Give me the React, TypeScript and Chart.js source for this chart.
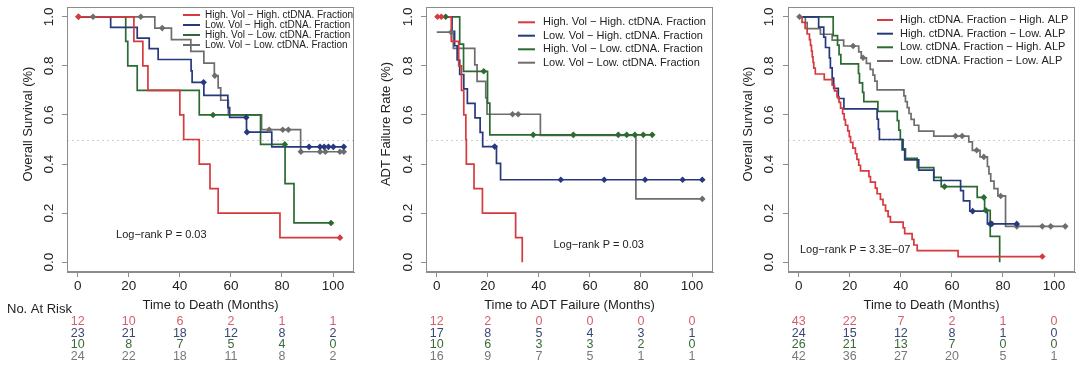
import React, { useEffect, useRef } from 'react';
import { Chart, registerables } from 'chart.js';

Chart.register(...registerables);

const FONT = "'Liberation Sans', Arial, Helvetica, sans-serif";

// ---------- shared axis ticks ----------
const xTickValues = [0, 20, 40, 60, 80, 100];
const yTickValues = [0, 0.2, 0.4, 0.6, 0.8, 1.0];

// ---------- Panel 1: Overall survival by volume x ctDNA ----------
const p1Labels = [
  'High. Vol − High. ctDNA. Fraction',
  'Low. Vol − High. ctDNA. Fraction',
  'High. Vol − Low. ctDNA. Fraction',
  'Low. Vol − Low. ctDNA. Fraction',
];
const p1RedTimes = [0, 22, 25.5, 27.5, 40, 41.5, 47.6, 51.8, 55, 79.2];
const p1RedSurv = [1, 0.9, 0.8, 0.7, 0.6, 0.5, 0.4, 0.3, 0.2, 0.1];
const p1RedCensor = [0.3, 102.7];
const p1BlueTimes = [0, 12.9, 23.3, 28, 31.5, 44.4, 44.8, 49.4, 58.8, 59.5, 66.1, 76];
const p1BlueSurv = [1, 0.957, 0.913, 0.87, 0.826, 0.78, 0.733, 0.68, 0.63, 0.59, 0.53, 0.47];
const p1BlueCensor = [49.3, 66.0, 66.3, 90.6, 94.9, 96.5, 98.2, 100.1, 104.2];
const p1GreenTimes = [0, 18.8, 19.6, 23.3, 47.6, 71.6, 81.2, 84.7];
const p1GreenSurv = [1, 0.9, 0.8, 0.7, 0.6, 0.48, 0.32, 0.16];
const p1GreenCensor = [53, 81.1, 99.2];
const p1GrayTimes = [0, 30.2, 36.7, 44.3, 49.4, 53.5, 55, 56, 59, 72, 87.3];
const p1GraySurv = [1, 0.954, 0.907, 0.859, 0.811, 0.76, 0.71, 0.66, 0.6, 0.54, 0.45];
const p1GrayCensor = [0.3, 6, 24.7, 33.1, 53.7, 75, 80.3, 82.5, 87.4, 94.9, 97, 102.7, 104.2];
const p1RiskRed = [12, 10, 6, 2, 1, 1];
const p1RiskBlue = [23, 21, 18, 12, 8, 2];
const p1RiskGreen = [10, 8, 7, 5, 4, 0];
const p1RiskGray = [24, 22, 18, 11, 8, 2];

// ---------- Panel 2: ADT failure ----------
const p2RedTimes = [0, 5.7, 8.6, 9.7, 10.6, 11.4, 11.6, 14.6, 17.9, 30.9, 33.5];
const p2RedSurv = [1, 0.9, 0.8, 0.7, 0.6, 0.5, 0.4, 0.3, 0.2, 0.1, 0];
const p2RedCensor = [0.3, 1.8];
const p2BlueTimes = [0, 6, 7, 8, 9, 10.6, 12, 15, 17, 18, 23.4, 25];
const p2BlueSurv = [1, 0.941, 0.882, 0.824, 0.765, 0.706, 0.647, 0.588, 0.529, 0.471, 0.403, 0.336];
const p2BlueCensor = [22.7, 48.6, 65.6, 81.6, 96.3, 104];
const p2GreenTimes = [0, 9, 10.5, 19.9, 20.8];
const p2GreenSurv = [1, 0.889, 0.778, 0.648, 0.519];
const p2GreenCensor = [3.5, 18.4, 37.8, 53.5, 71.1, 74.4, 77.6, 80.9, 84.4];
const p2GrayTimes = [0, 6.5, 14.9, 15.8, 19.2, 19.7, 40.6, 78];
const p2GraySurv = [0.9375, 0.871, 0.804, 0.737, 0.67, 0.603, 0.517, 0.258];
const p2GrayCensor = [5.7, 29.7, 31.9, 104];
const p2RiskRed = [12, 2, 0, 0, 0, 0];
const p2RiskBlue = [17, 8, 5, 4, 3, 1];
const p2RiskGreen = [10, 6, 3, 3, 2, 0];
const p2RiskGray = [16, 9, 7, 5, 1, 1];

// ---------- Panel 3: Overall survival by ctDNA x ALP ----------
const p3Labels = [
  'High. ctDNA. Fraction − High. ALP',
  'High. ctDNA. Fraction − Low. ALP',
  'Low. ctDNA. Fraction − High. ALP',
  'Low. ctDNA. Fraction − Low. ALP',
];
const p3RedTimes = [0, 1.3, 2.5, 3.3, 4.2, 4.6, 5.0, 5.3, 5.6, 5.9, 6.5, 10, 13.1, 14, 15, 15.8, 16.4, 17.2, 17.8, 18.3, 19.2, 19.8, 20.3, 21.2, 22.2, 22.8, 23.5, 24.2, 27.5, 28.1, 30, 30.7, 32, 33, 34, 35, 35.9, 40.9, 41.5, 44.4, 45.1, 46.4, 62.4];
const p3RedSurv = [1, 0.977, 0.953, 0.93, 0.907, 0.884, 0.86, 0.837, 0.814, 0.791, 0.767, 0.744, 0.721, 0.698, 0.674, 0.651, 0.628, 0.605, 0.581, 0.558, 0.535, 0.512, 0.488, 0.465, 0.442, 0.419, 0.395, 0.372, 0.349, 0.326, 0.302, 0.279, 0.256, 0.233, 0.209, 0.186, 0.163, 0.14, 0.116, 0.093, 0.07, 0.047, 0.023];
const p3RedCensor = [95.4];
const p3BlueTimes = [0, 7.8, 9.8, 10.5, 12, 12.4, 13.1, 13.7, 15.5, 17.7, 30.7, 31.2, 31.6, 40.5, 41.5, 47, 52.9, 63.4, 64.5, 67, 73.9];
const p3BlueSurv = [1, 0.958, 0.917, 0.875, 0.833, 0.792, 0.75, 0.708, 0.667, 0.625, 0.583, 0.542, 0.5, 0.458, 0.417, 0.375, 0.333, 0.292, 0.25, 0.208, 0.156];
const p3BlueCensor = [68.1, 75, 75.6, 85.4];
const p3GreenTimes = [0, 13.5, 15.2, 15.8, 16.5, 23.4, 23.8, 25, 25.5, 31, 38.6, 39.2, 39.8, 40.9, 41.8, 46.4, 52.9, 55.8, 69.9, 72.8, 75, 78.7];
const p3GreenSurv = [1, 0.923, 0.885, 0.846, 0.808, 0.769, 0.731, 0.692, 0.654, 0.615, 0.577, 0.538, 0.5, 0.462, 0.423, 0.385, 0.346, 0.308, 0.264, 0.211, 0.105, 0];
const p3GreenCensor = [57.1, 72.5, 73.3];
const p3GrayTimes = [0, 2.6, 3.3, 8.5, 13.1, 17.6, 23.5, 24.5, 26.5, 28, 29.1, 29.8, 30.7, 41.2, 41.8, 42.5, 43.2, 44, 45.2, 47, 52.9, 66.6, 68, 71, 73.9, 74.5, 75.2, 76.5, 78, 81];
const p3GraySurv = [1, 0.976, 0.952, 0.929, 0.905, 0.881, 0.857, 0.833, 0.81, 0.786, 0.762, 0.738, 0.702, 0.678, 0.654, 0.63, 0.606, 0.582, 0.558, 0.534, 0.514, 0.49, 0.456, 0.429, 0.39, 0.36, 0.33, 0.3, 0.27, 0.146];
const p3GrayCensor = [0.3, 21.3, 25.2, 61.4, 64, 69.7, 72.5, 79.1, 85.4, 95.4, 98.7, 104.4];
const p3RiskRed = [43, 22, 7, 2, 1, 0];
const p3RiskBlue = [24, 15, 12, 8, 1, 0];
const p3RiskGreen = [26, 21, 13, 7, 0, 0];
const p3RiskGray = [42, 36, 27, 20, 5, 1];

// ---------- styles ----------
const LINE = { red: '#d6393e', blue: '#26387e', green: '#2b6a31', gray: '#6d6d6d' };
const RISK = { red: '#d4606c', blue: '#3a4678', green: '#3a6a3a', gray: '#787878' };
const FRAME = '#8c8c8c';
const TEXT = '#222222';

type Group = {
  label: string; color: string; riskColor: string;
  times: number[]; surv: number[]; end: number; censor: number[]; risk: number[];
};

function lastEnd(times: number[], censor: number[]) {
  return Math.max(times[times.length - 1], censor.length ? censor[censor.length - 1] : 0);
}

function mk(label: string, key: 'red' | 'blue' | 'green' | 'gray', times: number[], surv: number[], censor: number[], risk: number[]): Group {
  return { label, color: LINE[key], riskColor: RISK[key], times, surv, end: lastEnd(times, censor), censor, risk };
}

type Panel = {
  groups: Group[];
  yTitle: string; xTitle: string; logrank: string; logX: number; logY: number;
  riskLabel: boolean;
  areaLeft: number; rightPad: number; yTickPad: number; yTitleX: number;
  legend: { size: number; x0: number; x1: number; tx: number; ys: number[] };
};

const panels: Panel[] = [
  {
    groups: [
      mk(p1Labels[0], 'red', p1RedTimes, p1RedSurv, p1RedCensor, p1RiskRed),
      mk(p1Labels[1], 'blue', p1BlueTimes, p1BlueSurv, p1BlueCensor, p1RiskBlue),
      mk(p1Labels[2], 'green', p1GreenTimes, p1GreenSurv, p1GreenCensor, p1RiskGreen),
      mk(p1Labels[3], 'gray', p1GrayTimes, p1GraySurv, p1GrayCensor, p1RiskGray),
    ],
    yTitle: 'Overall Survival (%)', xTitle: 'Time to Death (Months)',
    logrank: 'Log−rank P = 0.03', logX: 15, logY: 0.11, riskLabel: true,
    areaLeft: 67, rightPad: 6, yTickPad: 3.3, yTitleX: 28,
    legend: { size: 10, x0: 183, x1: 200, tx: 205, ys: [15, 25, 35, 45] },
  },
  {
    groups: [
      mk(p1Labels[0], 'red', p2RedTimes, p2RedSurv, p2RedCensor, p2RiskRed),
      mk(p1Labels[1], 'blue', p2BlueTimes, p2BlueSurv, p2BlueCensor, p2RiskBlue),
      mk(p1Labels[2], 'green', p2GreenTimes, p2GreenSurv, p2GreenCensor, p2RiskGreen),
      mk(p1Labels[3], 'gray', p2GrayTimes, p2GraySurv, p2GrayCensor, p2RiskGray),
    ],
    yTitle: 'ADT Failure Rate (%)', xTitle: 'Time to ADT Failure (Months)',
    logrank: 'Log−rank P = 0.03', logX: 45.7, logY: 0.07, riskLabel: false,
    areaLeft: 66, rightPad: 7, yTickPad: 3.3, yTitleX: 26.7,
    legend: { size: 11, x0: 158, x1: 175, tx: 183, ys: [22.3, 35.7, 49.3, 62.7] },
  },
  {
    groups: [
      mk(p3Labels[0], 'red', p3RedTimes, p3RedSurv, p3RedCensor, p3RiskRed),
      mk(p3Labels[1], 'blue', p3BlueTimes, p3BlueSurv, p3BlueCensor, p3RiskBlue),
      mk(p3Labels[2], 'green', p3GreenTimes, p3GreenSurv, p3GreenCensor, p3RiskGreen),
      mk(p3Labels[3], 'gray', p3GrayTimes, p3GraySurv, p3GrayCensor, p3RiskGray),
    ],
    yTitle: 'Overall Survival (%)', xTitle: 'Time to Death (Months)',
    logrank: 'Log−rank P = 3.3E−07', logX: 0.5, logY: 0.049, riskLabel: false,
    areaLeft: 68, rightPad: 5, yTickPad: 4.3, yTitleX: 28,
    legend: { size: 11, x0: 157, x1: 173, tx: 180, ys: [20, 33.7, 47.3, 61] },
  },
];

function survAt(times: number[], surv: number[], t: number) {
  let s = surv[0];
  for (let i = 0; i < times.length; i++) if (times[i] <= t) s = surv[i];
  return s;
}

function buildDatasets(p: Panel) {
  const censorSets = p.groups.map((g) => ({
    label: g.label + ' censored',
    data: g.censor.map((t) => ({ x: t, y: survAt(g.times, g.surv, t) })),
    showLine: false,
    pointStyle: 'rectRot' as const,
    pointRadius: 3.3,
    pointBackgroundColor: g.color,
    pointBorderColor: g.color,
    pointBorderWidth: 0,
  }));
  const lineSets = p.groups.map((g) => ({
    label: g.label,
    data: [
      ...g.times.map((t, i) => ({ x: t, y: g.surv[i] })),
      { x: g.end, y: g.surv[g.surv.length - 1] },
    ],
    showLine: true,
    stepped: 'before' as const,
    borderColor: g.color,
    borderWidth: 1.7,
    pointRadius: 0,
    fill: false,
  }));
  return [...censorSets, ...lineSets];
}

function extrasPlugin(p: Panel) {
  return {
    id: 'kmExtras',
    beforeDatasetsDraw(chart: any) {
      const { ctx, chartArea: a, scales } = chart;
      const yy = Math.round(scales.y.getPixelForValue(0.5)) + 0.5;
      ctx.save();
      ctx.strokeStyle = '#cfcfcf';
      ctx.lineWidth = 1;
      ctx.setLineDash([2, 3]);
      ctx.beginPath();
      ctx.moveTo(a.left, yy);
      ctx.lineTo(a.right, yy);
      ctx.stroke();
      ctx.restore();
    },
    afterDraw(chart: any) {
      const { ctx, chartArea: a, scales } = chart;
      const xs = scales.x, ys = scales.y;
      ctx.save();
      // frame
      ctx.strokeStyle = FRAME;
      ctx.lineWidth = 1;
      ctx.strokeRect(Math.round(a.left) + 0.5, Math.round(a.top) + 0.5, Math.round(a.right - a.left) - 1, Math.round(a.bottom - a.top) - 1);

      // legend
      const L = p.legend;
      ctx.font = `${L.size}px ${FONT}`;
      ctx.textBaseline = 'middle';
      ctx.textAlign = 'left';
      p.groups.forEach((g, i) => {
        ctx.strokeStyle = g.color;
        ctx.lineWidth = 2;
        ctx.beginPath();
        ctx.moveTo(L.x0, L.ys[i]);
        ctx.lineTo(L.x1, L.ys[i]);
        ctx.stroke();
        ctx.fillStyle = TEXT;
        ctx.fillText(g.label, L.tx, L.ys[i]);
      });

      // log-rank text
      ctx.font = `11px ${FONT}`;
      ctx.fillStyle = TEXT;
      ctx.fillText(p.logrank, xs.getPixelForValue(p.logX), ys.getPixelForValue(p.logY));

      // y title
      ctx.save();
      ctx.translate(p.yTitleX, 124);
      ctx.rotate(-Math.PI / 2);
      ctx.font = `13px ${FONT}`;
      ctx.textAlign = 'center';
      ctx.textBaseline = 'middle';
      ctx.fillStyle = TEXT;
      ctx.fillText(p.yTitle, 0, 0);
      ctx.restore();

      // risk table
      if (p.riskLabel) {
        ctx.font = `13px ${FONT}`;
        ctx.textAlign = 'left';
        ctx.fillStyle = TEXT;
        ctx.fillText('No. At Risk', 7, 309);
      }
      ctx.font = `12.5px ${FONT}`;
      ctx.textAlign = 'center';
      const rowY = [322, 333.5, 345, 356.5];
      p.groups.forEach((g, r) => {
        ctx.fillStyle = g.riskColor;
        g.risk.forEach((n, c) => {
          ctx.fillText(String(n), xs.getPixelForValue(xTickValues[c]), rowY[r]);
        });
      });
      ctx.restore();
    },
  };
}

function KMPanel({ p, left }: { p: Panel; left: number }) {
  const ref = useRef<HTMLCanvasElement | null>(null);
  useEffect(() => {
    if (!ref.current) return;
    const chart = new Chart(ref.current, {
      type: 'scatter',
      data: { datasets: buildDatasets(p) as any },
      options: {
        responsive: false,
        animation: false,
        layout: { padding: { left: 0, right: p.rightPad, top: 7, bottom: 0 } },
        plugins: { legend: { display: false }, tooltip: { enabled: false } },
        scales: {
          x: {
            type: 'linear',
            min: -4.2,
            max: 108.2,
            afterBuildTicks: (s: any) => { s.ticks = xTickValues.map((v) => ({ value: v })); },
            afterFit: (s: any) => { s.height = 95; s.paddingLeft = 0; s.paddingRight = 0; },
            grid: { drawOnChartArea: false, drawTicks: true, tickLength: 5, color: FRAME, lineWidth: 1 },
            border: { display: true, color: FRAME },
            ticks: {
              autoSkip: false, maxRotation: 0, padding: 1.6, color: TEXT,
              font: { family: FONT, size: 13.5 },
              callback: (v: any) => String(v),
            },
            title: {
              display: true, text: p.xTitle, color: TEXT,
              font: { family: FONT, size: 13 },
              padding: { top: 0, bottom: 54.2 },
            },
          },
          y: {
            type: 'linear',
            min: -0.04,
            max: 1.04,
            afterBuildTicks: (s: any) => { s.ticks = yTickValues.map((v) => ({ value: v })); },
            afterFit: (s: any) => { s.width = p.areaLeft; s.paddingTop = 0; s.paddingBottom = 0; },
            grid: { drawOnChartArea: false, drawTicks: true, tickLength: 5, color: FRAME, lineWidth: 1 },
            border: { display: true, color: FRAME },
            ticks: {
              autoSkip: false, minRotation: 90, maxRotation: 90, crossAlign: 'center',
              padding: p.yTickPad, color: TEXT,
              font: { family: FONT, size: 13.5 },
              callback: (v: any) => Number(v).toFixed(1),
            },
          },
        },
      },
      plugins: [extrasPlugin(p)],
    } as any);
    return () => chart.destroy();
  }, [p]);
  return (
    <div style={{ position: 'absolute', left, top: 0, width: 360, height: 367 }}>
      <canvas ref={ref} width={360} height={367} style={{ display: 'block', width: 360, height: 367 }} />
    </div>
  );
}

export default function App() {
  return (
    <div style={{ position: 'absolute', left: 0, top: 0, width: 1080, height: 367, background: '#ffffff', overflow: 'hidden' }}>
      {panels.map((p, i) => (
        <KMPanel key={i} p={p} left={i * 360} />
      ))}
    </div>
  );
}
